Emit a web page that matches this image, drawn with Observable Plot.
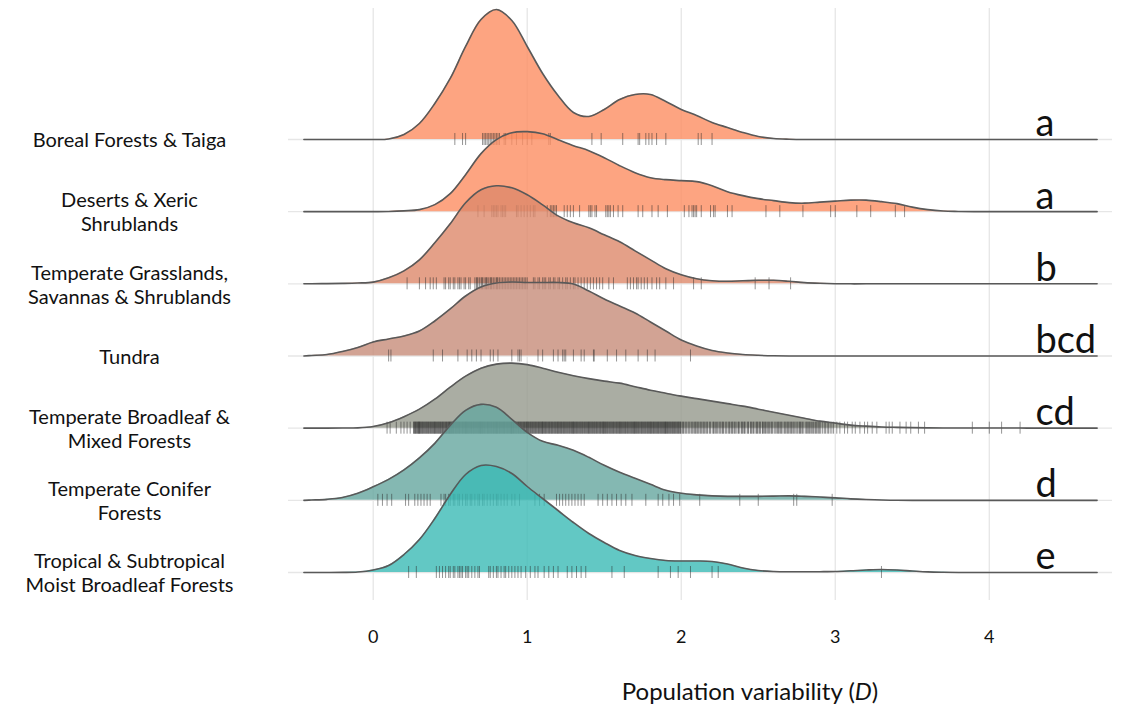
<!DOCTYPE html>
<html>
<head>
<meta charset="utf-8">
<script src="https://cdn.jsdelivr.net/npm/d3@7"></script>
<script src="https://cdn.jsdelivr.net/npm/@observablehq/plot@0.6"></script>
<style>
  body { margin: 0; background: #fff; font-family: Lato, "Open Sans", sans-serif; }
  #chart svg { display: block; }
  #caption { width: 1128px; box-sizing: border-box; padding-left: 372px; text-align: center;
             font-size: 24px; line-height: 26px; margin-top: 18px; color: #111; }
</style>
</head>
<body>
<div id="chart"></div>
<div id="caption">Population variability (<i>D</i>)</div>
<script>
// ---------- data ----------
const biomes = [
  "Boreal Forests & Taiga",
  "Deserts & Xeric Shrublands",
  "Temperate Grasslands, Savannas & Shrublands",
  "Tundra",
  "Temperate Broadleaf & Mixed Forests",
  "Temperate Conifer Forests",
  "Tropical & Subtropical Moist Broadleaf Forests"
];
const biomeLabels = [
  "Boreal Forests & Taiga",
  "Deserts & Xeric\nShrublands",
  "Temperate Grasslands,\nSavannas & Shrublands",
  "Tundra",
  "Temperate Broadleaf &\nMixed Forests",
  "Temperate Conifer\nForests",
  "Tropical & Subtropical\nMoist Broadleaf Forests"
];
const groupLetters = ["a", "a", "b", "bcd", "cd", "d", "e"];
const fillColors = ["#FC8D62", "#FC8D62", "#DD886A", "#C78C79", "#95998C", "#65A69F", "#3BBAB5"];
const xTicks = [0, 1, 2, 3, 4];

// density grid (population variability D)
const gridD = [-0.45, -0.4, -0.3, -0.2, -0.1, 0, 0.1, 0.2, 0.3, 0.4, 0.5, 0.6, 0.7, 0.8, 0.9,
  1.0, 1.1, 1.2, 1.3, 1.4, 1.5, 1.6, 1.7, 1.8, 1.9, 2.0, 2.1, 2.2, 2.3, 2.4, 2.5, 2.6, 2.7, 2.8, 2.9,
  3.0, 3.1, 3.2, 3.3, 3.4, 3.5, 3.6, 3.7, 3.8, 3.9, 4.0, 4.1, 4.2, 4.3, 4.4, 4.5, 4.6, 4.7];

// ridge heights (relative density)
const densBoreal = [0,0,0,0,0,0, 0.5,5,16,36,61,93,120,130,119, 93,66,44,27,23,30,40,45,45,38,
  30,24,17,12,7,3,1,0.3, 0,0,0,0,0,0,0,0,0,0,0,0,0,0,0,0,0,0,0,0];
const densDeserts = [0,0,0,0,0,0, 0.2,0.8,2,7,18,37,58,72,79, 80,78,72,66,61,54,46,39,34,32,
  31,30,26,20,16,13,11,9,8.5,9.5, 10.5,11.5,11.5,10,8,4.5,2,0.6,0.2, 0,0,0,0,0,0,0,0,0];
const densGrass = [0,0.1,0.2,0.4,0.8,1.7, 6,13,24,41,60,81,94,98,96, 89,79,68,61,56,49,42,33,24,15,
  9,5,3,2.5,3,3.5,3.5,2.5,1.2,0.5, 0.1,0,0,0,0,0,0,0,0,0,0,0,0,0,0,0,0,0];
const densTundra = [0,0.5,1.5,4.5,8.5,14, 17,20,25,35,47,60,69,73,74, 73.5,73.5,73.5,72,65,57,50,43,34,25,
  16,10,5.5,3,1.5,0.7,0.2,0, 0,0,0,0,0,0,0,0,0,0,0,0,0,0,0,0,0,0,0,0];
const densBroadleaf = [0,0,0,0.1,0.3,1.7, 5.5,11.5,19,29,41,52,60,64,65, 63.5,60,56,52.5,49.5,47,45,41.5,38,35,
  32,29.5,27,24.5,22,19,16,13,10,7, 5,3,2,1.2,0.8,0.5,0.3,0.2,0.1,0.1,0.1,0.1,0.1, 0,0,0,0,0];
const densConifer = [0,0.3,1,2.8,7,13.5, 21,30.5,42.5,57,75,90,96,93,81, 68,59,55,50,43,35,28,22,16,10,
  7,5.5,4.5,4,4,4,4.2,4.5,4,3.3, 2.5,1.5,0.8,0.3,0.1, 0,0,0,0,0,0,0,0,0,0,0,0,0];
const densTropical = [0,0,0,0.1,0.5,2.5, 7,18,33,54,78,98,107,106,99, 86,74,62,50,39,30,22,17,14,12,
  11.5,11.5,11,8.5,4.5,2,1,0.7,0.7,0.8, 1,1.7,2.5,3,2.5,1.5,0.6,0.2, 0,0,0,0,0,0,0,0,0,0];

// individual observations (rug)
const rugBoreal = [0.53,0.58,0.60,0.71,0.72,0.73,0.74,0.75,0.76,0.77,0.78,0.79,0.80,0.81,0.82,0.85,0.86,
  0.90,0.93,0.97,1.00,1.03,1.14,1.15,1.42,1.48,1.62,1.72,1.73,1.77,1.79,1.81,1.84,1.90,2.11,2.13,2.20];
const rugDeserts = [0.68,0.72,0.77,0.78,0.79,0.80,0.81,0.83,0.84,0.85,0.86,0.93,0.94,0.96,0.98,1.00,1.02,
  1.04,1.05,1.13,1.15,1.16,1.17,1.18,1.19,1.24,1.26,1.28,1.30,1.34,1.40,1.41,1.42,1.44,1.45,1.51,1.52,
  1.53,1.54,1.56,1.59,1.62,1.72,1.75,1.81,1.85,1.91,2.02,2.05,2.07,2.08,2.09,2.10,2.13,2.19,2.21,2.22,
  2.30,2.33,2.55,2.64,2.79,2.97,3.00,3.14,3.23,3.39,3.45];
const rugGrass = [0.22,0.30,0.34,0.37,0.39,0.41,0.46,0.47,0.49,0.50,0.52,0.53,0.55,0.56,0.57,0.59,0.60,
  0.62,0.63,0.66,0.67,0.675,0.68,0.69,0.70,0.705,0.71,0.72,0.73,0.735,0.74,0.75,0.76,0.765,0.77,0.78,
  0.79,0.80,0.805,0.81,0.82,0.83,0.84,0.85,0.86,0.87,0.88,0.89,0.90,0.91,0.92,0.93,0.94,0.95,0.96,0.97,
  0.98,0.99,1.00,1.04,1.05,1.07,1.08,1.10,1.11,1.12,1.14,1.15,1.17,1.18,1.20,1.21,1.23,1.25,1.26,1.28,
  1.30,1.31,1.33,1.35,1.37,1.39,1.41,1.43,1.45,1.47,1.49,1.53,1.56,1.65,1.67,1.69,1.71,1.72,1.74,1.76,
  1.78,1.81,1.84,1.86,1.90,1.95,2.08,2.13,2.48,2.57,2.71];
const rugTundra = [0.10,0.115,0.39,0.45,0.55,0.61,0.64,0.67,0.70,0.76,0.78,0.81,0.90,0.94,0.95,0.96,
  1.07,1.10,1.17,1.20,1.23,1.24,1.25,1.30,1.35,1.37,1.43,1.435,1.52,1.58,1.64,1.72,1.78,1.83,2.06];
const rugBroadleaf = ("0.09 0.11 0.15 0.18 0.20 0.22 0.24 0.262 0.269 0.275 0.283 0.290 0.296 " +
  "0.304 0.311 0.319 0.326 0.334 0.342 0.349 0.357 0.364 0.372 0.380 0.387 0.395 " +
  "0.401 0.408 0.416 0.423 0.431 0.438 0.446 0.453 0.461 0.469 0.476 0.484 0.491 0.498 " +
  "0.504 0.511 0.519 0.526 0.534 0.542 0.549 0.557 0.564 0.572 0.580 0.587 0.595 " +
  "0.601 0.608 0.616 0.623 0.631 0.638 0.646 0.653 0.661 0.669 0.676 0.684 0.691 0.698 " +
  "0.704 0.711 0.719 0.726 0.734 0.742 0.749 0.757 0.764 0.772 0.780 0.787 0.795 " +
  "0.801 0.808 0.816 0.823 0.831 0.838 0.846 0.853 0.861 0.869 0.876 0.884 0.891 0.898 " +
  "0.904 0.911 0.919 0.926 0.934 0.942 0.949 0.957 0.964 0.972 0.980 0.987 0.995 " +
  "1.001 1.008 1.016 1.023 1.031 1.038 1.046 1.053 1.061 1.069 1.076 1.084 1.091 1.098 " +
  "1.104 1.111 1.119 1.126 1.134 1.142 1.149 1.157 1.164 1.172 1.180 1.187 1.195 " +
  "1.201 1.208 1.216 1.223 1.231 1.238 1.246 1.253 1.261 1.269 1.276 1.284 1.291 1.298 " +
  "1.304 1.311 1.319 1.326 1.334 1.342 1.349 1.357 1.364 1.372 1.380 1.387 1.395 " +
  "1.401 1.408 1.416 1.423 1.431 1.438 1.446 1.453 1.461 1.469 1.476 1.484 1.491 1.498 " +
  "1.504 1.511 1.519 1.526 1.534 1.542 1.549 1.557 1.564 1.572 1.580 1.587 1.595 " +
  "1.601 1.608 1.616 1.623 1.631 1.638 1.646 1.653 1.661 1.669 1.676 1.684 1.691 1.698 " +
  "1.704 1.711 1.719 1.726 1.734 1.742 1.749 1.757 1.764 1.772 1.780 1.787 1.795 " +
  "1.801 1.808 1.816 1.823 1.831 1.838 1.846 1.853 1.861 1.869 1.876 1.884 1.891 1.898 " +
  "1.904 1.911 1.919 1.926 1.934 1.942 1.949 1.957 1.964 1.972 1.980 1.987 1.995 " +
  "2.006 2.015 2.024 2.036 2.045 2.057 2.066 2.078 2.087 2.096 " +
  "2.103 2.114 2.122 2.133 2.141 2.152 2.160 2.171 2.182 2.192 " +
  "2.205 2.214 2.222 2.236 2.245 2.257 2.266 2.274 2.285 2.297 " +
  "2.308 2.317 2.327 2.336 2.345 2.357 2.368 2.377 2.389 2.398 " +
  "2.406 2.415 2.428 2.437 2.449 2.458 2.466 2.479 2.488 2.496 " +
  "2.505 2.514 2.526 2.533 2.541 2.552 2.561 2.573 2.582 2.592 " +
  "2.603 2.617 2.625 2.636 2.644 2.655 2.667 2.678 2.686 2.697 " +
  "2.705 2.716 2.724 2.737 2.745 2.758 2.767 2.775 2.788 2.796 " +
  "2.808 2.819 2.827 2.838 2.846 2.859 2.868 2.879 2.887 2.899 " +
  "2.906 2.918 2.929 2.937 2.948 2.956 2.967 2.978 2.989 " +
  "3.01 3.03 3.06 3.08 3.11 3.13 3.16 3.19 3.21 3.24 3.27 " +
  "3.33 3.35 3.37 3.42 3.46 3.49 3.54 3.58 3.89 4.00 4.08 4.20 " +
  "0.265 0.272 0.279 0.286 0.293 0.299 " +
  "0.300 0.308 0.315 0.322 0.330 0.338 0.345 0.353 0.360 0.368 0.376 0.383 0.391 0.398 " +
  "0.405 0.412 0.420 0.427 0.435 0.442 0.450 0.457 0.465 0.473 0.480 0.488 0.495 " +
  "0.500 0.508 0.515 0.522 0.530 0.538 0.545 0.553 0.560 0.568 0.576 0.583 0.591 0.598 " +
  "0.605 0.612 0.620 0.627 0.635 0.642 0.650 0.657 0.665 0.673 0.680 0.688 0.695 " +
  "0.700 0.708 0.715 0.722 0.730 0.738 0.745 0.753 0.760 0.768 0.776 0.783 0.791 0.798 " +
  "0.805 0.812 0.820 0.827 0.835 0.842 0.850 0.857 0.865 0.873 0.880 0.888 0.895 " +
  "0.900 0.908 0.915 0.922 0.930 0.938 0.945 0.953 0.960 0.968 0.976 0.983 0.991 0.998 " +
  "1.005 1.012 1.020 1.027 1.035 1.042 1.050 1.057 1.065 1.073 1.080 1.088 1.095 " +
  "1.100 1.108 1.115 1.122 1.130 1.138 1.145 1.153 1.160 1.168 1.176 1.183 1.191 1.198 " +
  "1.205 1.212 1.220 1.227 1.235 1.242 1.250 1.257 1.265 1.273 1.280 1.288 1.295 " +
  "1.300 1.308 1.315 1.322 1.330 1.338 1.345 1.353 1.360 1.368 1.376 1.383 1.391 1.398 " +
  "1.405 1.412 1.420 1.427 1.435 1.442 1.450 1.457 1.465 1.473 1.480 1.488 1.495 " +
  "1.500 1.508 1.515 1.522 1.530 1.538 1.545 1.553 1.560 1.568 1.576 1.583 1.591 1.598 " +
  "1.605 1.612 1.620 1.627 1.635 1.642 1.650 1.657 1.665 1.673 1.680 1.688 1.695 " +
  "1.700 1.708 1.715 1.722 1.730 1.738 1.745 1.753 1.760 1.768 1.776 1.783 1.791 1.798 " +
  "1.805 1.812 1.820 1.827 1.835 1.842 1.850 1.857 1.865 1.873 1.880 1.888 1.895 " +
  "1.900 1.908 1.915 1.922 1.930 1.938 1.945 1.953 1.960 1.968 1.976 1.983 1.991 1.998 " +
  "2.011 2.030 2.051 2.072 2.091 2.108 2.127 2.146 2.166 2.187 2.209 2.229 2.251 2.270 2.291 " +
  "2.312 2.331 2.350 2.372 2.393 2.411 2.433 2.453 2.470 2.492 2.510 2.529 2.547 2.566 2.587 " +
  "2.610 2.631 2.650 2.672 2.691 2.711 2.730 2.752 2.771 2.783 2.814 2.832 2.853 2.873 2.893").split(" ").map(Number);
const rugConifer = [0.03,0.06,0.09,0.12,0.21,0.23,0.27,0.29,0.31,0.33,0.35,0.37,0.44,0.46,0.47,0.49,0.50,
  0.52,0.53,0.55,0.56,0.58,0.60,0.61,0.63,0.64,0.66,0.68,0.69,0.71,0.72,0.74,0.76,0.78,0.80,0.81,0.83,
  0.85,0.87,0.90,0.92,0.95,1.05,1.08,1.11,1.19,1.21,1.23,1.25,1.27,1.29,1.31,1.33,1.35,1.37,1.46,1.49,
  1.52,1.55,1.58,1.61,1.64,1.68,1.77,1.85,1.88,1.92,1.95,1.99,2.12,2.38,2.50,2.73,2.75,2.98];
const rugTropical = [0.23,0.28,0.41,0.43,0.45,0.47,0.49,0.50,0.52,0.53,0.55,0.56,0.57,0.58,0.60,0.61,
  0.62,0.64,0.66,0.68,0.69,0.75,0.76,0.78,0.80,0.81,0.83,0.85,0.86,0.88,0.90,0.92,0.94,0.96,0.99,1.02,
  1.05,1.07,1.11,1.14,1.17,1.20,1.26,1.29,1.32,1.35,1.38,1.55,1.63,1.85,1.93,1.98,2.06,2.20,2.24,3.30];

const densities = [densBoreal, densDeserts, densGrass, densTundra, densBroadleaf, densConifer, densTropical];
const rugs = [rugBoreal, rugDeserts, rugGrass, rugTundra, rugBroadleaf, rugConifer, rugTropical];

// ---------- layout / style ----------
const ROW_PX = 72.17;      // pixels between ridge baselines; densities are in pixels of height
const RUG_HALF = 6 / ROW_PX;
const nRows = biomes.length;

const rows = biomes.map((b, i) => ({biome: b, label: biomeLabels[i], letter: groupLetters[i], row: nRows - 1 - i}));

const marks = [
  Plot.ruleX(xTicks, {stroke: "#e6e6e6", strokeWidth: 1.3}),
  Plot.ruleY(rows, {y: "row", stroke: "#e6e6e6", strokeWidth: 1.3})
];

biomes.forEach((b, i) => {
  const base = nRows - 1 - i;
  const pts = gridD.map((d, j) => ({d, base, top: base + densities[i][j] / ROW_PX}));
  marks.push(
    Plot.areaY(pts, {x: "d", y1: "base", y2: "top", fill: fillColors[i], fillOpacity: 0.8, curve: "catmull-rom"}),
    Plot.ruleX(rugs[i], {x: v => v, y1: () => base - RUG_HALF, y2: () => base + RUG_HALF,
      stroke: "#2a2a2a", strokeOpacity: 0.5, strokeWidth: 1}),
    Plot.lineY(pts, {x: "d", y: "top", stroke: "#595959", strokeWidth: 1.6, curve: "catmull-rom"})
  );
});

marks.push(
  Plot.axisX({ticks: xTicks, tickFormat: d => String(d), tickSize: 0, tickPadding: 30, fontSize: 18, label: null, fill: "#111"}),
  Plot.text(rows, {y: "row", text: "label", frameAnchor: "left", textAnchor: "middle", dx: -159,
    lineAnchor: "middle", lineHeight: 1.2, fontSize: 20, fill: "#111"}),
  Plot.text(rows, {y: "row", text: "letter", frameAnchor: "right", textAnchor: "start", dx: -77,
    lineAnchor: "bottom", dy: -3, fontSize: 38, fill: "#111"})
);

const chart = Plot.plot({
  width: 1128,
  height: 660,
  marginLeft: 288,
  marginRight: 16,
  marginTop: 8,
  marginBottom: 60,
  style: {fontFamily: "Lato, 'Open Sans', sans-serif", background: "#fff", color: "#111"},
  x: {domain: [-0.55, 4.8]},
  y: {domain: [-0.388, 7.815], axis: null},
  marks
});
document.getElementById("chart").appendChild(chart);
</script>
</body>
</html>
